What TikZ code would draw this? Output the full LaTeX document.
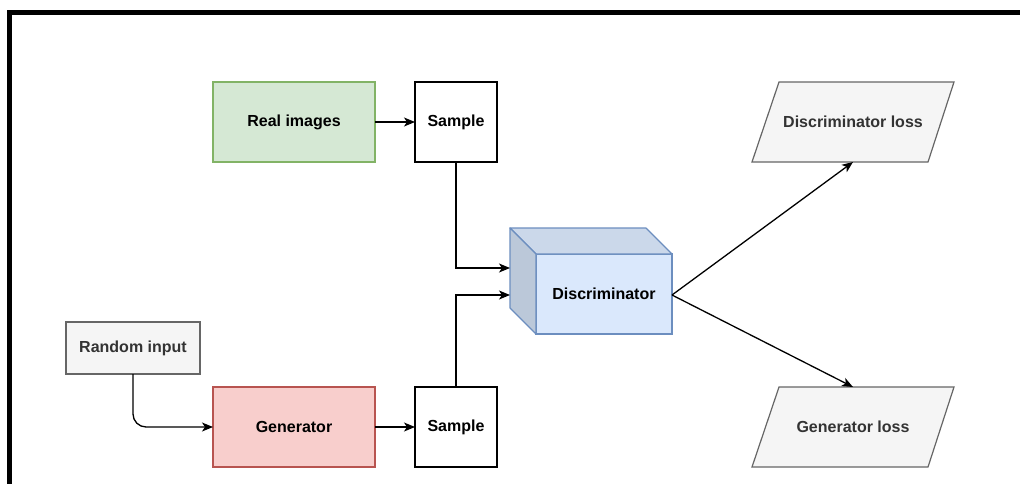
\documentclass[tikz,border=0pt]{standalone}
\usepackage{fontspec}
\setmainfont{Liberation Sans}
\usetikzlibrary{arrows.meta,calc,backgrounds}

\definecolor{greenfill}{HTML}{D5E8D4}
\definecolor{greenline}{HTML}{82B366}
\definecolor{redfill}{HTML}{F8CECC}
\definecolor{redline}{HTML}{B85450}
\definecolor{bluefill}{HTML}{DAE8FC}
\definecolor{blueline}{HTML}{6C8EBF}
\definecolor{grayfill}{HTML}{F5F5F5}
\definecolor{grayline}{HTML}{666666}
\definecolor{graytext}{HTML}{333333}

\tikzset{
  box/.style={rectangle, draw, line width=1.2pt, outer sep=0pt, inner sep=0pt,
    minimum height=80pt, font=\bfseries\fontsize{16}{19}\selectfont},
  wide/.style={box, minimum width=162pt},
  narrow/.style={box, minimum width=82pt, fill=white, draw=black},
  realbox/.style={wide, fill=greenfill, draw=greenline},
  genbox/.style={wide, fill=redfill, draw=redline},
  inputbox/.style={box, minimum width=134pt, minimum height=52pt,
    fill=grayfill, draw=grayline, text=graytext},
  cubefront/.style={box, minimum width=136pt, fill=bluefill, draw=blueline},
  lossbox/.style={box, draw=none, minimum width=202pt, text=graytext},
  lossshape/.style={fill=grayfill, draw=grayline, line width=1.2pt, line join=miter},
  arr/.style={line width=1.3pt, -{Stealth[length=11pt,width=9pt,inset=3pt]}},
}

\begin{document}
\begin{tikzpicture}[x=1pt, y=-1pt]
  \useasboundingbox (0,0) rectangle (1020,483);

  % frame
  \draw[line width=5pt, line join=miter] (9.5,490) -- (9.5,12.5) -- (1025,12.5);

  % boxes
  \node[realbox] (real) at (294,122) {Real images};
  \node[narrow] (s1) at (456,122) {Sample};
  \node[inputbox] (rand) at (133,348) {Random input};
  \node[genbox] (gen) at (294,427) {Generator};
  \node[narrow] (s2) at (456,427) {Sample};

  % discriminator cube
  \node[cubefront] (disc) at (604,294) {Discriminator};
  \coordinate (dback) at ($(disc.north west)+(-26,-26)$);
  \filldraw[fill=bluefill!93!black, draw=blueline, line width=1.2pt, line join=round]
    (dback) -- ($(disc.north east)+(-26,-26)$) -- (disc.north east) -- (disc.north west) -- cycle;
  \filldraw[fill=bluefill!86!black, draw=blueline, line width=1.2pt, line join=round]
    (dback) -- (disc.north west) -- (disc.south west) -- ($(disc.south west)+(-26,-26)$) -- cycle;
  \coordinate (din1) at ($(dback)+(0,40)$);
  \coordinate (din2) at ($(disc.west)+(-26,1)$);

  % losses
  \node[lossbox] (dloss) at (853,122) {Discriminator loss};
  \node[lossbox] (gloss) at (853,427) {Generator loss};
  \begin{pgfonlayer}{background}
    \foreach \n in {dloss,gloss}
      \path[lossshape] (\n.south west) -- ($(\n.south east)+(-26,0)$)
        -- (\n.north east) -- ($(\n.north west)+(27,0)$) -- cycle;
  \end{pgfonlayer}

  % connectors
  \draw[arr] (real) -- (s1);
  \draw[arr] (gen) -- (s2);
  \draw[arr, rounded corners=13pt] (rand.south) |- (gen.west);
  \draw[arr] (s1.south) |- (din1);
  \draw[arr] (s2.north) |- (din2);
  \draw[arr] ($(disc.east)+(0,1)$) -- (dloss.south);
  \draw[arr] ($(disc.east)+(0,1)$) -- (gloss.north);
\end{tikzpicture}
\end{document}
